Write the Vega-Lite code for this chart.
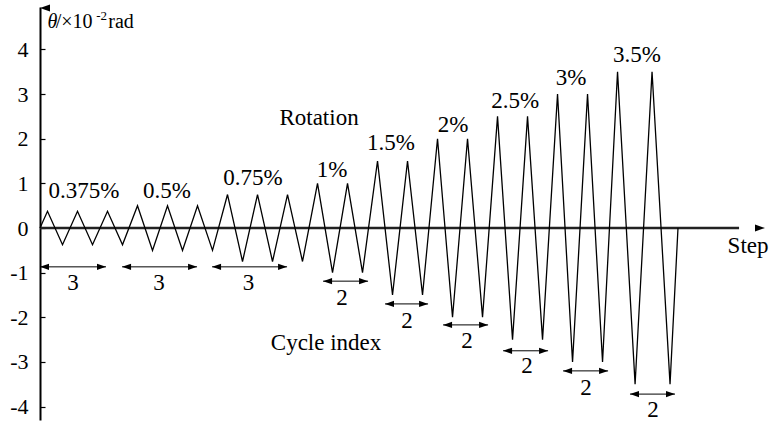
{
  "$schema": "https://vega.github.io/schema/vega-lite/v6.json",
  "width": 728,
  "height": 413,
  "autosize": {"type": "none"},
  "padding": {"left": 40, "top": 7, "right": 5, "bottom": 5},
  "background": "white",
  "config": {
    "view": {"stroke": null},
    "text": {"font": "'Liberation Serif', 'Times New Roman', serif", "color": "black"}
  },
  "datasets": {
    "wave": [
      {"x": 0, "y": 0},
      {"x": 0.5, "y": 0.375}, {"x": 1.5, "y": -0.375}, {"x": 2.5, "y": 0.375}, {"x": 3.5, "y": -0.375}, {"x": 4.5, "y": 0.375}, {"x": 5.5, "y": -0.375},
      {"x": 6.5, "y": 0.5}, {"x": 7.5, "y": -0.5}, {"x": 8.5, "y": 0.5}, {"x": 9.5, "y": -0.5}, {"x": 10.5, "y": 0.5}, {"x": 11.5, "y": -0.5},
      {"x": 12.5, "y": 0.75}, {"x": 13.5, "y": -0.75}, {"x": 14.5, "y": 0.75}, {"x": 15.5, "y": -0.75}, {"x": 16.5, "y": 0.75}, {"x": 17.5, "y": -0.75},
      {"x": 18.5, "y": 1}, {"x": 19.5, "y": -1}, {"x": 20.5, "y": 1}, {"x": 21.5, "y": -1},
      {"x": 22.5, "y": 1.5}, {"x": 23.5, "y": -1.5}, {"x": 24.5, "y": 1.5}, {"x": 25.5, "y": -1.5},
      {"x": 26.5, "y": 2}, {"x": 27.5, "y": -2}, {"x": 28.5, "y": 2}, {"x": 29.5, "y": -2},
      {"x": 30.5, "y": 2.5}, {"x": 31.5, "y": -2.5}, {"x": 32.5, "y": 2.5}, {"x": 33.5, "y": -2.5},
      {"x": 34.5, "y": 3}, {"x": 35.5, "y": -3}, {"x": 36.5, "y": 3}, {"x": 37.5, "y": -3},
      {"x": 38.5, "y": 3.5}, {"x": 39.67, "y": -3.5}, {"x": 40.8, "y": 3.5}, {"x": 42.0, "y": -3.5},
      {"x": 42.53, "y": 0}
    ],
    "spans": [
      {"x1": 0.0, "x2": 4.4, "y": -0.87},
      {"x1": 5.47, "x2": 10.47, "y": -0.87},
      {"x1": 11.47, "x2": 16.47, "y": -0.87},
      {"x1": 18.87, "x2": 21.87, "y": -1.19},
      {"x1": 23.0, "x2": 25.87, "y": -1.70},
      {"x1": 26.87, "x2": 29.87, "y": -2.17},
      {"x1": 30.87, "x2": 33.87, "y": -2.75},
      {"x1": 34.87, "x2": 37.87, "y": -3.20},
      {"x1": 39.33, "x2": 42.33, "y": -3.72}
    ],
    "labels": [
      {"x": 2.93, "y": 0.67, "t": "0.375%"},
      {"x": 8.47, "y": 0.67, "t": "0.5%"},
      {"x": 14.2, "y": 0.96, "t": "0.75%"},
      {"x": 19.47, "y": 1.14, "t": "1%"},
      {"x": 23.4, "y": 1.75, "t": "1.5%"},
      {"x": 27.53, "y": 2.15, "t": "2%"},
      {"x": 31.67, "y": 2.69, "t": "2.5%"},
      {"x": 35.4, "y": 3.2, "t": "3%"},
      {"x": 39.8, "y": 3.72, "t": "3.5%"},
      {"x": 18.6, "y": 2.31, "t": "Rotation"},
      {"x": 19.07, "y": -2.73, "t": "Cycle index"},
      {"x": 47.2, "y": -0.56, "t": "Step"},
      {"x": 2.2, "y": -1.39, "t": "3"},
      {"x": 7.93, "y": -1.39, "t": "3"},
      {"x": 13.9, "y": -1.39, "t": "3"},
      {"x": 20.13, "y": -1.72, "t": "2"},
      {"x": 24.47, "y": -2.24, "t": "2"},
      {"x": 28.47, "y": -2.69, "t": "2"},
      {"x": 32.47, "y": -3.25, "t": "2"},
      {"x": 36.4, "y": -3.74, "t": "2"},
      {"x": 40.87, "y": -4.23, "t": "2"}
    ],
    "axisArrows": [
      {"x": 0, "y": 4.93, "dir": "up"},
      {"x": 48.33, "y": 0, "dir": "right"}
    ]
  },
  "encoding": {
    "x": {"field": "x", "type": "quantitative", "scale": {"domain": [0, 48.53], "nice": false, "zero": false}, "axis": null},
    "y": {"field": "y", "type": "quantitative", "scale": {"domain": [-4.3, 4.95], "nice": false, "zero": false},
      "axis": {"values": [-4, -3, -2, -1, 0, 1, 2, 3, 4], "labelExpr": "'' + datum.value", "labelFont": "'Liberation Serif', 'Times New Roman', serif", "labelFontSize": 22, "labelColor": "black", "domainColor": "black", "domainWidth": 2, "tickColor": "black", "tickSize": -5, "tickWidth": 1.2, "grid": false, "title": null, "labelPadding": 17}}
  },
  "layer": [
    {
      "data": {"values": [{"x": 0, "x2": 46.6, "y": 0}]},
      "mark": {"type": "rule", "color": "#222", "strokeWidth": 2.4},
      "encoding": {"x2": {"field": "x2"}}
    },
    {
      "data": {"name": "wave"},
      "mark": {"type": "line", "color": "black", "strokeWidth": 1.3}
    },
    {
      "data": {"name": "spans"},
      "mark": {"type": "rule", "color": "black", "strokeWidth": 1},
      "encoding": {"x": {"field": "x1", "type": "quantitative"}, "x2": {"field": "x2"}}
    },
    {
      "data": {"name": "spans"},
      "transform": [{"fold": ["x1", "x2"], "as": ["end", "xe"]}],
      "mark": {"type": "point", "filled": true, "color": "black", "opacity": 1, "size": 81},
      "encoding": {
        "x": {"field": "xe", "type": "quantitative"},
        "shape": {"field": "end", "type": "nominal", "legend": null, "scale": {"domain": ["x1", "x2"], "range": ["M0,0L2,-0.7L2,0.7Z", "M0,0L-2,-0.7L-2,0.7Z"]}}
      }
    },
    {
      "data": {"name": "axisArrows"},
      "mark": {"type": "point", "filled": true, "color": "black", "opacity": 1, "size": 100},
      "encoding": {
        "shape": {"field": "dir", "type": "nominal", "legend": null, "scale": {"domain": ["up", "right"], "range": ["M0,0L0.9,5.8L-0.9,5.8Z", "M0,0L-5.8,-1L-5.8,1Z"]}}
      }
    },
    {
      "data": {"name": "labels"},
      "mark": {"type": "text", "fontSize": 23, "align": "center", "baseline": "alphabetic"},
      "encoding": {"text": {"field": "t"}}
    },
    {
      "data": {"values": [{"x": 0.5, "y": 4.48, "t": "θ"}]},
      "mark": {"type": "text", "fontSize": 20, "fontStyle": "italic", "align": "left", "baseline": "alphabetic"},
      "encoding": {"text": {"field": "t"}}
    },
    {
      "data": {"values": [{"x": 1.05, "y": 4.48, "t": "/×10"}, {"x": 4.55, "y": 4.48, "t": "rad"}]},
      "mark": {"type": "text", "fontSize": 20, "align": "left", "baseline": "alphabetic"},
      "encoding": {"text": {"field": "t"}}
    },
    {
      "data": {"values": [{"x": 3.75, "y": 4.66, "t": "-2"}]},
      "mark": {"type": "text", "fontSize": 13, "align": "left", "baseline": "alphabetic"},
      "encoding": {"text": {"field": "t"}}
    }
  ]
}
